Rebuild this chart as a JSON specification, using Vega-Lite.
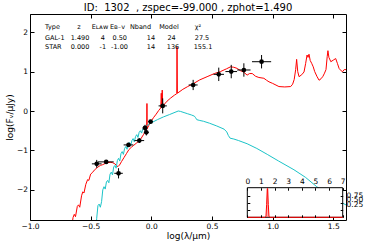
{
  "$schema": "https://vega.github.io/schema/vega-lite/v6.json",
  "width": 316,
  "height": 206,
  "autosize": {"type": "none"},
  "padding": {"left": 30, "top": 14, "right": 22, "bottom": 25},
  "background": "white",
  "config": {
    "view": {"stroke": "black", "strokeWidth": 1},
    "font": "DejaVu Sans",
    "axis": {"grid": false, "domain": false, "tickColor": "black", "labelColor": "black", "labelFont": "DejaVu Sans", "titleFont": "DejaVu Sans", "titleFontWeight": "normal", "titleColor": "black", "tickSize": -4, "labelFontSize": 7.5, "labelFlush": false, "labelOverlap": false}
  },
  "title": {"text": "ID:\u00a0 1302\u00a0 , zspec=-99.000 , zphot=1.490", "fontSize": 10, "fontWeight": "normal", "font": "DejaVu Sans", "offset": 1, "color": "black"},
  "datasets": {
    "gal": [
      {"x": -0.66, "y": -3.0}, {"x": -0.645, "y": -2.7}, {"x": -0.635, "y": -2.62}, {"x": -0.625, "y": -2.68}, {"x": -0.61, "y": -2.42}, {"x": -0.6, "y": -2.38}, {"x": -0.59, "y": -2.44}, {"x": -0.575, "y": -2.15}, {"x": -0.565, "y": -2.05}, {"x": -0.555, "y": -2.08}, {"x": -0.54, "y": -1.86}, {"x": -0.525, "y": -1.74}, {"x": -0.515, "y": -1.76}, {"x": -0.5, "y": -1.6}, {"x": -0.485, "y": -1.56}, {"x": -0.47, "y": -1.5}, {"x": -0.455, "y": -1.46}, {"x": -0.44, "y": -1.42}, {"x": -0.42, "y": -1.38}, {"x": -0.4, "y": -1.36}, {"x": -0.38, "y": -1.33}, {"x": -0.36, "y": -1.31}, {"x": -0.34, "y": -1.3}, {"x": -0.32, "y": -1.31}, {"x": -0.3, "y": -1.34}, {"x": -0.285, "y": -1.39}, {"x": -0.275, "y": -1.41}, {"x": -0.262, "y": -1.37}, {"x": -0.245, "y": -1.28}, {"x": -0.225, "y": -1.18}, {"x": -0.205, "y": -1.08}, {"x": -0.185, "y": -0.98}, {"x": -0.165, "y": -0.92}, {"x": -0.145, "y": -0.87}, {"x": -0.125, "y": -0.82}, {"x": -0.105, "y": -0.77}, {"x": -0.085, "y": -0.7}, {"x": -0.065, "y": -0.6}, {"x": -0.05, "y": -0.52}, {"x": -0.038, "y": -0.47}, {"x": -0.036, "y": 0.19}, {"x": -0.034, "y": -0.45}, {"x": -0.02, "y": -0.36}, {"x": 0.0, "y": -0.25}, {"x": 0.02, "y": -0.16}, {"x": 0.04, "y": -0.08}, {"x": 0.06, "y": 0.01}, {"x": 0.078, "y": 0.08}, {"x": 0.082, "y": 0.45}, {"x": 0.086, "y": 0.1}, {"x": 0.09, "y": 0.53}, {"x": 0.094, "y": 0.12}, {"x": 0.11, "y": 0.18}, {"x": 0.13, "y": 0.25}, {"x": 0.16, "y": 0.33}, {"x": 0.19, "y": 0.4}, {"x": 0.21, "y": 0.44}, {"x": 0.212, "y": 1.62}, {"x": 0.215, "y": 0.45}, {"x": 0.26, "y": 0.55}, {"x": 0.3, "y": 0.62}, {"x": 0.35, "y": 0.7}, {"x": 0.4, "y": 0.79}, {"x": 0.46, "y": 0.87}, {"x": 0.52, "y": 0.95}, {"x": 0.57, "y": 1.0}, {"x": 0.62, "y": 1.07}, {"x": 0.653, "y": 1.12}, {"x": 0.68, "y": 1.11}, {"x": 0.708, "y": 1.08}, {"x": 0.736, "y": 1.02}, {"x": 0.76, "y": 0.99}, {"x": 0.79, "y": 0.91}, {"x": 0.81, "y": 0.95}, {"x": 0.832, "y": 0.95}, {"x": 0.86, "y": 0.88}, {"x": 0.887, "y": 0.85}, {"x": 0.928, "y": 0.83}, {"x": 0.95, "y": 0.78}, {"x": 0.97, "y": 0.74}, {"x": 1.0, "y": 0.7}, {"x": 1.052, "y": 0.62}, {"x": 1.1, "y": 0.61}, {"x": 1.149, "y": 0.62}, {"x": 1.165, "y": 0.68}, {"x": 1.178, "y": 0.8}, {"x": 1.19, "y": 1.05}, {"x": 1.198, "y": 1.31}, {"x": 1.207, "y": 1.0}, {"x": 1.218, "y": 0.87}, {"x": 1.24, "y": 0.92}, {"x": 1.259, "y": 0.99}, {"x": 1.272, "y": 1.2}, {"x": 1.284, "y": 1.42}, {"x": 1.292, "y": 1.36}, {"x": 1.3, "y": 1.44}, {"x": 1.31, "y": 1.28}, {"x": 1.322, "y": 1.21}, {"x": 1.335, "y": 1.12}, {"x": 1.347, "y": 1.0}, {"x": 1.365, "y": 0.88}, {"x": 1.383, "y": 0.78}, {"x": 1.4, "y": 0.82}, {"x": 1.415, "y": 0.88}, {"x": 1.428, "y": 0.96}, {"x": 1.44, "y": 1.05}, {"x": 1.45, "y": 1.38}, {"x": 1.456, "y": 1.53}, {"x": 1.464, "y": 1.36}, {"x": 1.48, "y": 1.25}, {"x": 1.5, "y": 1.29}, {"x": 1.52, "y": 1.33}, {"x": 1.535, "y": 1.2}, {"x": 1.548, "y": 1.08}, {"x": 1.565, "y": 1.02}, {"x": 1.578, "y": 1.0}, {"x": 1.59, "y": 1.05}, {"x": 1.61, "y": 1.05}
    ],
    "star": [
      {"x": -0.456, "y": -3.0}, {"x": -0.45, "y": -2.72}, {"x": -0.44, "y": -2.4}, {"x": -0.43, "y": -2.36}, {"x": -0.42, "y": -2.44}, {"x": -0.41, "y": -2.3}, {"x": -0.4, "y": -2.0}, {"x": -0.39, "y": -1.92}, {"x": -0.38, "y": -1.98}, {"x": -0.37, "y": -1.8}, {"x": -0.36, "y": -1.76}, {"x": -0.35, "y": -1.82}, {"x": -0.34, "y": -1.6}, {"x": -0.33, "y": -1.55}, {"x": -0.32, "y": -1.62}, {"x": -0.31, "y": -1.42}, {"x": -0.3, "y": -1.38}, {"x": -0.29, "y": -1.45}, {"x": -0.28, "y": -1.26}, {"x": -0.27, "y": -1.2}, {"x": -0.26, "y": -1.27}, {"x": -0.25, "y": -1.08}, {"x": -0.24, "y": -1.03}, {"x": -0.23, "y": -1.1}, {"x": -0.22, "y": -0.95}, {"x": -0.21, "y": -0.9}, {"x": -0.2, "y": -0.97}, {"x": -0.19, "y": -0.82}, {"x": -0.18, "y": -0.8}, {"x": -0.17, "y": -0.88}, {"x": -0.16, "y": -0.75}, {"x": -0.15, "y": -0.7}, {"x": -0.14, "y": -0.78}, {"x": -0.13, "y": -0.65}, {"x": -0.12, "y": -0.6}, {"x": -0.11, "y": -0.67}, {"x": -0.1, "y": -0.54}, {"x": -0.09, "y": -0.5}, {"x": -0.08, "y": -0.56}, {"x": -0.07, "y": -0.45}, {"x": -0.06, "y": -0.42}, {"x": -0.05, "y": -0.46}, {"x": -0.04, "y": -0.38}, {"x": -0.02, "y": -0.34}, {"x": 0.0, "y": -0.3}, {"x": 0.05, "y": -0.22}, {"x": 0.1, "y": -0.15}, {"x": 0.15, "y": -0.09}, {"x": 0.222, "y": 0.0}, {"x": 0.24, "y": -0.01}, {"x": 0.27, "y": -0.04}, {"x": 0.3, "y": -0.07}, {"x": 0.33, "y": -0.1}, {"x": 0.355, "y": -0.13}, {"x": 0.365, "y": -0.17}, {"x": 0.375, "y": -0.22}, {"x": 0.4, "y": -0.24}, {"x": 0.43, "y": -0.26}, {"x": 0.48, "y": -0.31}, {"x": 0.54, "y": -0.38}, {"x": 0.6, "y": -0.46}, {"x": 0.622, "y": -0.53}, {"x": 0.635, "y": -0.62}, {"x": 0.65, "y": -0.69}, {"x": 0.68, "y": -0.71}, {"x": 0.72, "y": -0.75}, {"x": 0.79, "y": -0.83}, {"x": 0.87, "y": -0.95}, {"x": 0.956, "y": -1.1}, {"x": 1.05, "y": -1.27}, {"x": 1.176, "y": -1.49}, {"x": 1.27, "y": -1.68}, {"x": 1.364, "y": -1.92}, {"x": 1.45, "y": -2.1}, {"x": 1.52, "y": -2.24}, {"x": 1.61, "y": -2.39}
    ],
    "phot": [
      {"x": -0.45, "y": -1.34, "xlo": -0.49, "xhi": -0.41, "ylo": -1.44, "yhi": -1.24},
      {"x": -0.372, "y": -1.29, "xlo": -0.44, "xhi": -0.31, "ylo": -1.32, "yhi": -1.26},
      {"x": -0.27, "y": -1.58, "xlo": -0.305, "xhi": -0.235, "ylo": -1.71, "yhi": -1.45},
      {"x": -0.188, "y": -0.86, "xlo": -0.228, "xhi": -0.148, "ylo": -0.91, "yhi": -0.81},
      {"x": -0.099, "y": -0.75, "xlo": -0.139, "xhi": -0.059, "ylo": -0.81, "yhi": -0.69},
      {"x": -0.052, "y": -0.43, "xlo": -0.072, "xhi": -0.032, "ylo": -0.51, "yhi": -0.35},
      {"x": -0.041, "y": -0.54, "xlo": -0.061, "xhi": -0.021, "ylo": -0.62, "yhi": -0.46},
      {"x": -0.006, "y": -0.27, "xlo": -0.026, "xhi": 0.014, "ylo": -0.31, "yhi": -0.23},
      {"x": 0.094, "y": 0.13, "xlo": 0.06, "xhi": 0.128, "ylo": -0.06, "yhi": 0.32},
      {"x": 0.345, "y": 0.66, "xlo": 0.308, "xhi": 0.382, "ylo": 0.53, "yhi": 0.79},
      {"x": 0.556, "y": 0.93, "xlo": 0.513, "xhi": 0.599, "ylo": 0.76, "yhi": 1.1},
      {"x": 0.659, "y": 1.0, "xlo": 0.611, "xhi": 0.707, "ylo": 0.83, "yhi": 1.17},
      {"x": 0.763, "y": 1.04, "xlo": 0.708, "xhi": 0.818, "ylo": 0.87, "yhi": 1.21},
      {"x": 0.909, "y": 1.25, "xlo": 0.83, "xhi": 0.988, "ylo": 1.08, "yhi": 1.42}
    ],
    "table": [
      {"col": "Type", "text": "Type", "x": -0.876, "y": 2.123},
      {"col": "Type", "text": "GAL-1", "x": -0.876, "y": 1.859},
      {"col": "Type", "text": "STAR", "x": -0.876, "y": 1.616},
      {"col": "z", "text": "z", "x": -0.596, "y": 2.123},
      {"col": "z", "text": "1.490", "x": -0.588, "y": 1.859},
      {"col": "z", "text": "0.000", "x": -0.588, "y": 1.616},
      {"col": "ELAW", "text": "Eʟᴀᴡ", "x": -0.423, "y": 2.123},
      {"col": "ELAW", "text": "4", "x": -0.4, "y": 1.859},
      {"col": "ELAW", "text": "-1", "x": -0.4, "y": 1.616},
      {"col": "EBV", "text": "Eʙ₋ᴠ", "x": -0.279, "y": 2.123},
      {"col": "EBV", "text": "0.50", "x": -0.26, "y": 1.859},
      {"col": "EBV", "text": "-1.00", "x": -0.262, "y": 1.616},
      {"col": "Nband", "text": "Nband", "x": -0.089, "y": 2.123},
      {"col": "Nband", "text": "14", "x": -0.003, "y": 1.859},
      {"col": "Nband", "text": "14", "x": -0.003, "y": 1.616},
      {"col": "Model", "text": "Model", "x": 0.146, "y": 2.123},
      {"col": "Model", "text": "24", "x": 0.167, "y": 1.859},
      {"col": "Model", "text": "136", "x": 0.179, "y": 1.616},
      {"col": "chi2", "text": "χ²", "x": 0.385, "y": 2.123},
      {"col": "chi2", "text": "27.5", "x": 0.418, "y": 1.859},
      {"col": "chi2", "text": "155.1", "x": 0.426, "y": 1.616}
    ],
    "pz": [
      {"z": 0.0, "p": 0.0}, {"z": 1.3, "p": 0.0}, {"z": 1.37, "p": 0.04}, {"z": 1.42, "p": 0.45}, {"z": 1.465, "p": 1.02}, {"z": 1.495, "p": 1.02}, {"z": 1.54, "p": 0.45}, {"z": 1.59, "p": 0.04}, {"z": 1.66, "p": 0.0}, {"z": 7.0, "p": 0.0}
    ],
    "box": [{"x0": 0, "x1": 7, "y0": 0, "y1": 1.05}]
  },
  "resolve": {"scale": {"x": "independent", "y": "independent"}, "axis": {"x": "independent", "y": "independent"}},
  "layer": [
    {
      "data": {"name": "gal"},
      "mark": {"type": "line", "color": "#ff0000", "strokeWidth": 1, "clip": true},
      "encoding": {
        "x": {"field": "x", "type": "quantitative", "scale": {"domain": [-1, 1.605], "nice": false, "zero": false},
              "axis": {"orient": "bottom", "values": [-1, -0.5, 0, 0.5, 1, 1.5], "format": ".1f", "title": "log(λ/μm)", "titleFontSize": 9, "labelPadding": 6.5, "titlePadding": 1}},
        "y": {"field": "y", "type": "quantitative", "scale": {"domain": [-2.764, 2.46], "nice": false, "zero": false},
              "axis": {"orient": "left", "values": [-2, -1, 0, 1, 2], "format": "d", "title": "log(Fᵥ/μJy)", "titleFontSize": 9, "labelPadding": 6.5, "titlePadding": 2}}
      }
    },
    {
      "data": {"name": "star"},
      "mark": {"type": "line", "color": "#1cc4c8", "strokeWidth": 1, "clip": true},
      "encoding": {
        "x": {"field": "x", "type": "quantitative", "scale": {"domain": [-1, 1.605], "nice": false, "zero": false},
              "axis": {"orient": "top", "values": [-1, -0.5, 0, 0.5, 1, 1.5], "labels": false, "title": null}},
        "y": {"field": "y", "type": "quantitative", "scale": {"domain": [-2.764, 2.46], "nice": false, "zero": false},
              "axis": {"orient": "right", "values": [-2, -1, 0, 1, 2], "labels": false, "title": null}}
      }
    },
    {
      "data": {"name": "phot"},
      "mark": {"type": "rule", "color": "black", "strokeWidth": 1},
      "encoding": {
        "x": {"field": "xlo", "type": "quantitative", "scale": {"domain": [-1, 1.605], "nice": false, "zero": false}, "axis": null},
        "x2": {"field": "xhi"},
        "y": {"field": "y", "type": "quantitative", "scale": {"domain": [-2.764, 2.46], "nice": false, "zero": false}, "axis": null}
      }
    },
    {
      "data": {"name": "phot"},
      "mark": {"type": "rule", "color": "black", "strokeWidth": 1},
      "encoding": {
        "x": {"field": "x", "type": "quantitative", "scale": {"domain": [-1, 1.605], "nice": false, "zero": false}, "axis": null},
        "y": {"field": "ylo", "type": "quantitative", "scale": {"domain": [-2.764, 2.46], "nice": false, "zero": false}, "axis": null},
        "y2": {"field": "yhi"}
      }
    },
    {
      "data": {"name": "phot"},
      "mark": {"type": "circle", "color": "black", "size": 22, "opacity": 1},
      "encoding": {
        "x": {"field": "x", "type": "quantitative", "scale": {"domain": [-1, 1.605], "nice": false, "zero": false}, "axis": null},
        "y": {"field": "y", "type": "quantitative", "scale": {"domain": [-2.764, 2.46], "nice": false, "zero": false}, "axis": null}
      }
    },
    {
      "data": {"name": "table"},
      "transform": [{"filter": "datum.col == 'Type'"}],
      "mark": {"type": "text", "align": "left", "baseline": "middle", "fontSize": 6.5, "font": "DejaVu Sans", "fill": "#000000"},
      "encoding": {
        "x": {"field": "x", "type": "quantitative", "scale": {"domain": [-1, 1.605], "nice": false, "zero": false}, "axis": null},
        "y": {"field": "y", "type": "quantitative", "scale": {"domain": [-2.764, 2.46], "nice": false, "zero": false}, "axis": null},
        "text": {"field": "text"}
      }
    },
    {
      "data": {"name": "table"},
      "transform": [{"filter": "datum.col != 'Type'"}],
      "mark": {"type": "text", "align": "center", "baseline": "middle", "fontSize": 6.5, "font": "DejaVu Sans", "fill": "#000000"},
      "encoding": {
        "x": {"field": "x", "type": "quantitative", "scale": {"domain": [-1, 1.605], "nice": false, "zero": false}, "axis": null},
        "y": {"field": "y", "type": "quantitative", "scale": {"domain": [-2.764, 2.46], "nice": false, "zero": false}, "axis": null},
        "text": {"field": "text"}
      }
    },
    {
      "data": {"name": "box"},
      "mark": {"type": "rect", "fill": "white", "stroke": "black", "strokeWidth": 1},
      "encoding": {
        "x": {"field": "x0", "type": "quantitative", "scale": {"domain": [0, 7], "range": [217.3, 312.7], "nice": false, "zero": false},
              "axis": {"orient": "top", "offset": -173.7, "values": [0, 1, 2, 3, 4, 5, 6, 7], "format": "d", "tickSize": -2.5, "labelPadding": 5, "title": null, "zindex": 1}},
        "x2": {"field": "x1"},
        "y": {"field": "y0", "type": "quantitative", "scale": {"domain": [0, 1.05], "range": [203.3, 173.7], "nice": false, "zero": false},
              "axis": {"orient": "right", "offset": -3.3, "values": [0.25, 0.5, 0.75], "format": ".2f", "tickSize": -2.5, "labelPadding": 5.8, "title": null, "zindex": 1,
                       "labelOffset": {"condition": [{"test": "datum.value == 0.25", "value": -5.3}, {"test": "datum.value == 0.5", "value": -3.6}], "value": -0.7}}},
        "y2": {"field": "y1"}
      }
    },
    {
      "data": {"name": "pz"},
      "mark": {"type": "area", "color": "#ff0000", "opacity": 0.35, "line": {"color": "#ff0000", "strokeWidth": 1}},
      "encoding": {
        "x": {"field": "z", "type": "quantitative", "scale": {"domain": [0, 7], "range": [217.3, 312.7], "nice": false, "zero": false},
              "axis": {"orient": "bottom", "offset": -2.7, "values": [0, 1, 2, 3, 4, 5, 6, 7], "labels": false, "tickSize": -2.5, "title": null, "zindex": 1}},
        "y": {"field": "p", "type": "quantitative", "scale": {"domain": [0, 1.05], "range": [203.3, 173.7], "nice": false, "zero": false},
              "axis": {"orient": "left", "offset": -217.3, "values": [0.25, 0.5, 0.75], "labels": false, "tickSize": -2.5, "title": null, "zindex": 1}}
      }
    }
  ]
}
